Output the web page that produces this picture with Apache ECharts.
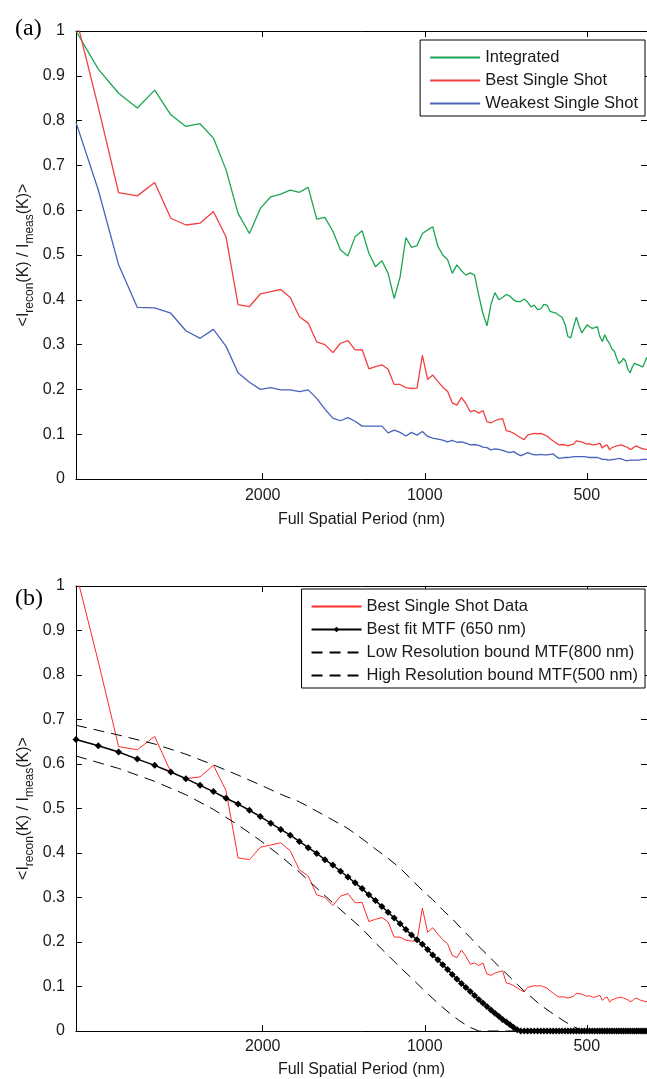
<!DOCTYPE html>
<html>
<head>
<meta charset="utf-8">
<script src="https://cdn.jsdelivr.net/npm/echarts@6/dist/echarts.min.js"></script>
<style>
  html, body { margin: 0; padding: 0; background: #fff; }
  #chart { width: 647px; height: 1079px; }
</style>
</head>
<body>
<div id="chart"></div>
<script>
// FFT harmonic index k -> full spatial period = BASE_PERIOD / k (nm)
const BASE_PERIOD = 44450;
const harmonics = [];
for (let k = 10; k <= 115; k++) harmonics.push(k);

const xTickPeriods = [2000, 1000, 500];

// panel (a)
const integrated = [
  1.000, 0.915, 0.861, 0.828, 0.868, 0.813, 0.787, 0.793, 0.761, 0.690,
  0.593, 0.548, 0.604, 0.630, 0.636, 0.645, 0.640, 0.651, 0.580, 0.584,
  0.553, 0.511, 0.498, 0.541, 0.554, 0.504, 0.474, 0.487, 0.459, 0.403,
  0.451, 0.539, 0.517, 0.521, 0.548, 0.556, 0.563, 0.520, 0.500, 0.490,
  0.459, 0.478, 0.465, 0.455, 0.460, 0.455, 0.410, 0.370, 0.342, 0.390,
  0.416, 0.400, 0.405, 0.412, 0.408, 0.400, 0.396, 0.396, 0.402, 0.395,
  0.384, 0.388, 0.378, 0.380, 0.390, 0.388, 0.374, 0.372, 0.370, 0.365,
  0.361, 0.345, 0.318, 0.315, 0.340, 0.361, 0.342, 0.326, 0.335, 0.344,
  0.340, 0.336, 0.338, 0.340, 0.318, 0.307, 0.322, 0.310, 0.302, 0.290,
  0.285, 0.270, 0.258, 0.262, 0.270, 0.262, 0.245, 0.237, 0.250, 0.258,
  0.256, 0.254, 0.252, 0.250, 0.262, 0.272
];
const bestSingle = [
  1.030, 0.830, 0.639, 0.632, 0.662, 0.582, 0.567, 0.571, 0.597, 0.540,
  0.389, 0.385, 0.413, 0.418, 0.423, 0.405, 0.362, 0.348, 0.306, 0.300,
  0.282, 0.303, 0.309, 0.288, 0.289, 0.246, 0.251, 0.255, 0.245, 0.211,
  0.211, 0.204, 0.202, 0.203, 0.276, 0.222, 0.232, 0.218, 0.205, 0.196,
  0.170, 0.165, 0.182, 0.168, 0.150, 0.153, 0.147, 0.153, 0.128, 0.125,
  0.130, 0.133, 0.135, 0.108, 0.106, 0.102, 0.097, 0.092, 0.088, 0.098,
  0.100, 0.102, 0.101, 0.102, 0.099, 0.096, 0.090, 0.085, 0.080, 0.076,
  0.077, 0.076, 0.074, 0.076, 0.078, 0.085, 0.084, 0.083, 0.080, 0.078,
  0.079, 0.076, 0.076, 0.078, 0.080, 0.069, 0.074, 0.076, 0.065, 0.070,
  0.072, 0.074, 0.075, 0.076, 0.074, 0.072, 0.070, 0.066, 0.068, 0.072,
  0.074, 0.071, 0.069, 0.068, 0.066, 0.066
];
const weakestSingle = [
  0.796, 0.645, 0.478, 0.383, 0.382, 0.370, 0.331, 0.314, 0.334, 0.296,
  0.237, 0.216, 0.200, 0.204, 0.199, 0.199, 0.195, 0.199, 0.180, 0.156,
  0.136, 0.130, 0.137, 0.129, 0.118, 0.118, 0.118, 0.118, 0.103, 0.109,
  0.104, 0.096, 0.104, 0.098, 0.106, 0.095, 0.091, 0.089, 0.087, 0.083,
  0.086, 0.082, 0.083, 0.080, 0.076, 0.077, 0.075, 0.071, 0.070, 0.065,
  0.067, 0.066, 0.064, 0.061, 0.059, 0.061, 0.056, 0.052, 0.055, 0.059,
  0.056, 0.054, 0.054, 0.055, 0.054, 0.054, 0.055, 0.056, 0.050, 0.046,
  0.047, 0.048, 0.048, 0.049, 0.050, 0.050, 0.050, 0.050, 0.050, 0.049,
  0.048, 0.048, 0.048, 0.048, 0.046, 0.044, 0.044, 0.043, 0.042, 0.043,
  0.044, 0.045, 0.046, 0.045, 0.043, 0.041, 0.041, 0.042, 0.042, 0.042,
  0.042, 0.042, 0.043, 0.044, 0.044, 0.044
];

// panel (b)
const bestFit = [
  0.655, 0.641, 0.627, 0.611, 0.597, 0.582, 0.567, 0.552, 0.538, 0.523,
  0.510, 0.496, 0.482, 0.467, 0.453, 0.440, 0.426, 0.412, 0.399, 0.385,
  0.373, 0.359, 0.346, 0.333, 0.320, 0.306, 0.293, 0.280, 0.267, 0.254,
  0.241, 0.228, 0.216, 0.205, 0.195, 0.183, 0.171, 0.160, 0.149, 0.138,
  0.127, 0.117, 0.107, 0.098, 0.089, 0.080, 0.071, 0.063, 0.055, 0.047,
  0.040, 0.033, 0.026, 0.020, 0.014, 0.008, 0.003, 0, 0, 0,
  0, 0, 0, 0, 0, 0, 0, 0, 0, 0,
  0, 0, 0, 0, 0, 0, 0, 0, 0, 0,
  0, 0, 0, 0, 0, 0, 0, 0, 0, 0,
  0, 0, 0, 0, 0, 0, 0, 0, 0, 0,
  0, 0, 0, 0, 0, 0
];
const boundHarmonics = [
  10, 12, 14, 16, 18, 20, 22, 24, 26, 28, 30, 32, 34, 36, 38, 40, 42, 44, 46, 48,
  50, 52, 54, 56, 58, 60, 62, 64, 66, 68, 70, 72, 74, 76, 78, 80, 82, 84, 86, 88,
  100, 115
];
const lowResBound = [
  0.618, 0.590, 0.561, 0.531, 0.498, 0.463, 0.428, 0.393, 0.357, 0.321,
  0.288, 0.258, 0.230, 0.198, 0.170, 0.143, 0.119, 0.095, 0.073, 0.053,
  0.035, 0.020, 0.008, 0, 0, 0, 0, 0, 0, 0,
  0, 0, 0, 0, 0, 0, 0, 0, 0, 0,
  0, 0
];
const highResBound = [
  0.687, 0.665, 0.645, 0.622, 0.598, 0.575, 0.553, 0.532, 0.515, 0.494,
  0.474, 0.455, 0.432, 0.409, 0.388, 0.366, 0.340, 0.316, 0.295, 0.272,
  0.252, 0.230, 0.210, 0.190, 0.172, 0.154, 0.137, 0.121, 0.105, 0.090,
  0.077, 0.064, 0.053, 0.043, 0.034, 0.025, 0.017, 0.010, 0.004, 0,
  0, 0
];

const FONT = '"Liberation Sans", Arial, sans-serif';
const INK = '#1a1a1a';

const logPeriod = (k) => Math.log10(BASE_PERIOD / k);
const pairs = (ks, vals) => ks.map((k, i) => [logPeriod(k), vals[i]]);
const xMin = logPeriod(harmonics[harmonics.length - 1]);
const xMax = logPeriod(harmonics[0]);
const tickPos = xTickPeriods.map((p) => Math.log10(p));

function periodAxis(grid, pos, nameGap, labelMargin) {
  const bottom = pos === 'bottom';
  return {
    type: 'value', gridIndex: grid, position: pos, inverse: true,
    min: xMin, max: xMax,
    axisLine: { show: true, onZero: false, lineStyle: { color: '#000', width: 1 } },
    axisTick: { show: true, inside: true, length: 6, customValues: tickPos,
      lineStyle: { color: '#000' } },
    axisLabel: { show: bottom, customValues: tickPos, margin: labelMargin,
      fontSize: 16, fontFamily: FONT, color: INK,
      formatter: (v) => String(Math.round(Math.pow(10, v))) },
    splitLine: { show: false },
    name: bottom ? 'Full Spatial Period (nm)' : '',
    nameLocation: 'middle', nameGap: nameGap,
    nameTextStyle: { fontSize: 16, fontFamily: FONT, color: INK }
  };
}

function ratioAxis(grid, pos) {
  const left = pos === 'left';
  return {
    type: 'value', gridIndex: grid, position: pos, min: 0, max: 1, interval: 0.1,
    axisLine: { show: true, onZero: false, lineStyle: { color: '#000', width: 1 } },
    axisTick: { show: true, inside: true, length: 6, lineStyle: { color: '#000' } },
    axisLabel: { show: left, margin: 11, fontSize: 16, fontFamily: FONT, color: INK },
    splitLine: { show: false },
    name: left ? '{a|<I}{s|recon}{a|(K) / I}{s|meas}{a|(K)>}' : '',
    nameLocation: 'middle', nameRotate: 90, nameGap: 40, nameMoveOverlap: false,
    nameTextStyle: {
      color: INK, fontFamily: FONT,
      rich: {
        a: { fontSize: 16, lineHeight: 24, verticalAlign: 'middle', fontFamily: FONT, color: INK },
        s: { fontSize: 12, verticalAlign: 'bottom', fontFamily: FONT, color: INK }
      }
    }
  };
}

function plainLine(name, axis, data, color, width, dash) {
  return {
    name: name, type: 'line', xAxisIndex: axis, yAxisIndex: axis, data: data,
    symbol: 'none', animation: false,
    itemStyle: { color: color },
    lineStyle: { color: color, width: width, type: dash || 'solid' }
  };
}

// legend entries of plain lines: hide the default circle, keep the line
const lineOnly = (name) => ({
  name: name,
  itemStyle: { color: 'rgba(0,0,0,0)', borderColor: 'rgba(0,0,0,0)', borderWidth: 0, opacity: 0 }
});

function legendBox(top, entries, iconHeight, gap) {
  return {
    orient: 'vertical', right: 2, top: top, data: entries,
    itemWidth: 50, itemHeight: iconHeight, itemGap: gap,
    padding: [9, 7, 4, 9], borderColor: '#000', borderWidth: 1,
    backgroundColor: '#fff', selectedMode: false,
    textStyle: { fontSize: 16.5, fontFamily: FONT, color: INK }
  };
}

const chart = echarts.init(document.getElementById('chart'));
chart.setOption({
  backgroundColor: '#fff',
  animation: false,
  title: [
    { text: '(a)', left: 10, top: 12,
      textStyle: { fontFamily: '"Liberation Serif", "Times New Roman", serif', fontSize: 24, fontWeight: 'normal', color: '#000' } },
    { text: '(b)', left: 10, top: 582,
      textStyle: { fontFamily: '"Liberation Serif", "Times New Roman", serif', fontSize: 24, fontWeight: 'normal', color: '#000' } }
  ],
  grid: [
    { left: 76, top: 31, right: -1, height: 448 },
    { left: 76, top: 586, right: -1, height: 449 }
  ],
  xAxis: [
    periodAxis(0, 'bottom', 33, 9),
    periodAxis(0, 'top', 0, 0),
    periodAxis(1, 'bottom', 31, 8),
    periodAxis(1, 'top', 0, 0)
  ],
  yAxis: [
    ratioAxis(0, 'left'),
    ratioAxis(0, 'right'),
    ratioAxis(1, 'left'),
    ratioAxis(1, 'right')
  ],
  legend: [
    legendBox(40, ['Integrated', 'Best Single Shot', 'Weakest Single Shot'].map(lineOnly), 14, 6),
    legendBox(589, [
      lineOnly('Best Single Shot Data'),
      'Best fit MTF (650 nm)',
      lineOnly('Low Resolution bound MTF(800 nm)'),
      lineOnly('High Resolution bound MTF(500 nm)')
    ], 7, 6)
  ],
  series: [
    plainLine('Integrated', 0, pairs(harmonics, integrated), '#1aa651', 1.3),
    plainLine('Best Single Shot', 0, pairs(harmonics, bestSingle), '#f2403f', 1.3),
    plainLine('Weakest Single Shot', 0, pairs(harmonics, weakestSingle), '#4a62bd', 1.3),
    plainLine('Best Single Shot Data', 2, pairs(harmonics, bestSingle), '#ff2a2a', 1),
    {
      name: 'Best fit MTF (650 nm)', type: 'line', xAxisIndex: 2, yAxisIndex: 2,
      data: pairs(harmonics, bestFit), symbol: 'diamond', symbolSize: 7,
      showSymbol: true, animation: false,
      itemStyle: { color: '#000' }, lineStyle: { color: '#000', width: 1.5 }
    },
    plainLine('Low Resolution bound MTF(800 nm)', 2, pairs(boundHarmonics, lowResBound), '#000', 1, [11, 7]),
    plainLine('High Resolution bound MTF(500 nm)', 2, pairs(boundHarmonics, highResBound), '#000', 1, [11, 7])
  ]
});
</script>
</body>
</html>
